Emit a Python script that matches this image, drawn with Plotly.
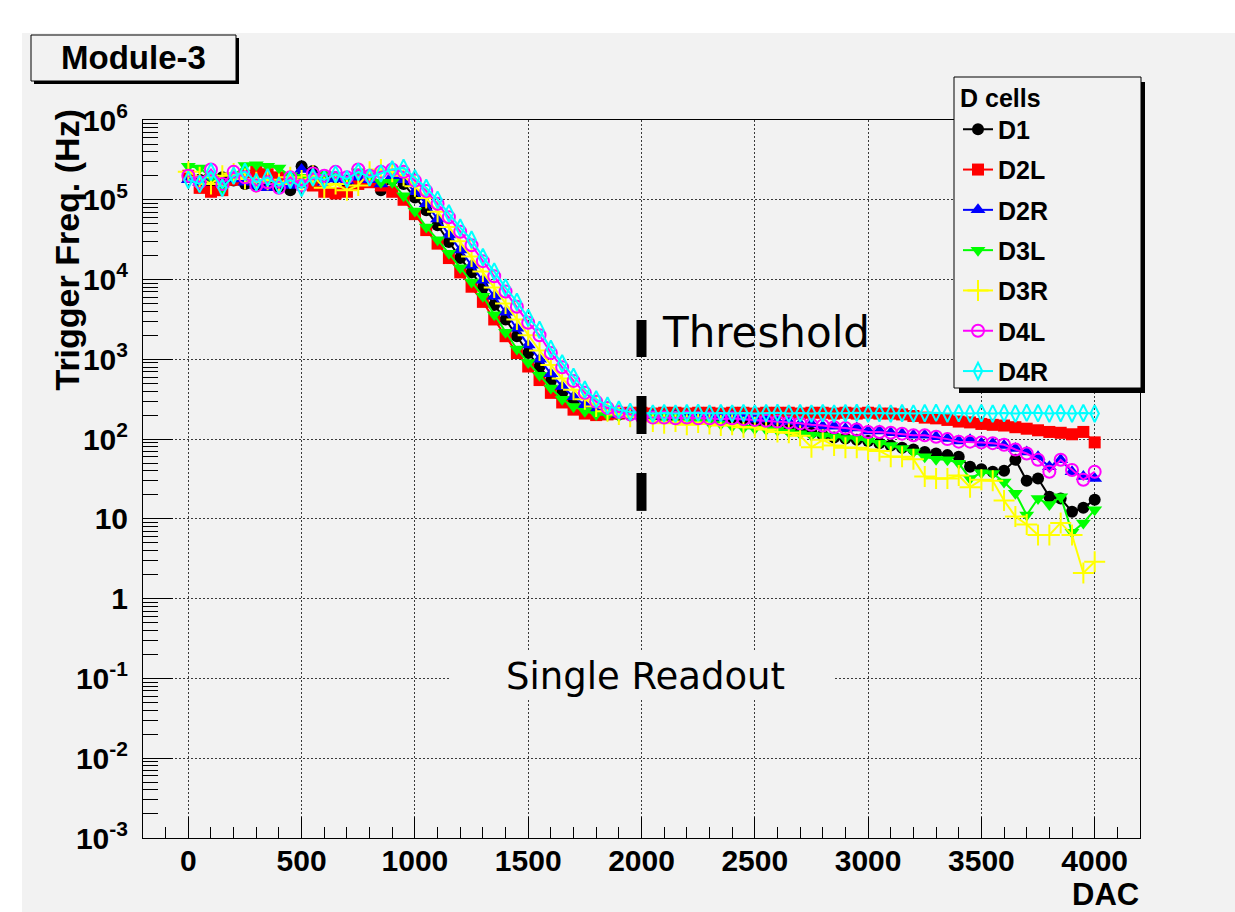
import plotly.graph_objects as go

# ---------------- data ----------------
dac = list(range(0, 4050, 50))  # DAC scan points, step 50

d1 = [200000, 178000, 166000, 191000, 174000, 158000, 151000, 158000, 145000, 132000,
      263000, 229000, 182000, 191000, 166000, 200000, 191000, 132000, 178000,
      158000, 107000, 74100, 47900, 29500, 18600, 12300, 7940, 4790, 3160,
      1950, 1200, 813, 537, 380, 288, 240, 219, 209, 204, 204,
      195, 200, 195, 191, 195, 191, 191, 186, 182, 174,
      158, 148, 141, 132, 126, 120, 112, 105, 102, 98,
      95, 89, 83, 78, 74, 69, 66, 63, 60, 45,
      42, 39, 40, 55, 30, 32, 19, 18, 12.3, 13.8, 17.4]

d2l = [200000, 141000, 126000, 132000, 178000, 200000, 224000, 209000, 191000, 178000,
       166000, 151000, 126000, 120000, 126000, 158000, 166000, 151000, 126000,
       100000, 66100, 41700, 28200, 18600, 12300, 8130, 5250, 3160, 1950,
       1200, 813, 550, 380, 288, 234, 209, 200, 204, 209, 214,
       214, 209, 214, 214, 209, 214, 214, 209, 214, 214,
       209, 214, 214, 214, 209, 214, 214, 209, 214, 209,
       214, 209, 209, 204, 195, 186, 182, 174, 166, 162,
       155, 151, 148, 141, 135, 129, 123, 120, 115, 123, 91]

d2r = [178000, 166000, 191000, 158000, 182000, 166000, 151000, 141000, 158000, 151000,
       240000, 214000, 166000, 182000, 174000, 191000, 178000, 158000, 200000,
       178000, 126000, 89100, 57500, 36300, 23400, 15100, 9770, 6170, 3890,
       2450, 1510, 1000, 661, 457, 339, 269, 234, 214, 204, 200,
       195, 195, 191, 195, 191, 191, 191, 186, 191, 186,
       178, 178, 166, 166, 155, 155, 145, 145, 135, 138,
       126, 126, 120, 117, 112, 112, 107, 102, 95, 98,
       89, 89, 83, 76, 69, 60, 45, 55, 39, 34, 32]

d3l = [263000, 251000, 191000, 141000, 200000, 269000, 275000, 263000, 251000, 200000,
       191000, 178000, 209000, 200000, 182000, 224000, 200000, 166000, 166000,
       112000, 72400, 45700, 31600, 21400, 14100, 9330, 6170, 3630, 2190,
       1350, 912, 631, 437, 316, 257, 224, 204, 200, 195, 195,
       195, 191, 186, 186, 178, 174, 162, 155, 145, 138,
       135, 132, 129, 123, 117, 112, 110, 107, 102, 100,
       95, 89, 83, 76, 69, 60, 56, 55, 50, 32,
       38, 37, 29, 21, 11.2, 18, 15.1, 19, 6.8, 8.9, 13]

d3r = [224000, 191000, 158000, 200000, 214000, 182000, 166000, 178000, 158000, 191000,
       174000, 200000, 141000, 158000, 132000, 151000, 224000, 240000, 224000,
       200000, 148000, 105000, 70800, 45700, 30200, 19500, 12600, 7940, 5010,
       3160, 2000, 1290, 851, 575, 417, 316, 257, 224, 204, 191,
       191, 166, 158, 166, 151, 162, 155, 148, 151, 141,
       141, 132, 123, 120, 110, 79, 98, 83, 78, 78,
       74, 71, 60, 60, 56, 34, 32, 32, 35, 25,
       31, 30, 17, 10.7, 8.5, 6.3, 6.3, 8.9, 6.3, 2.1, 2.9]

d4l = [200000, 166000, 240000, 158000, 224000, 191000, 151000, 166000, 141000, 191000,
       151000, 214000, 200000, 224000, 191000, 240000, 200000, 224000, 240000,
       224000, 174000, 129000, 89100, 60300, 39800, 26900, 17000, 11000, 7080,
       4570, 2880, 2000, 1200, 794, 537, 380, 295, 245, 219, 204,
       191, 186, 186, 182, 186, 182, 182, 178, 182, 178,
       174, 170, 166, 162, 158, 151, 148, 141, 138, 132,
       123, 123, 120, 117, 112, 112, 107, 100, 93, 93,
       91, 89, 85, 74, 66, 55, 39, 55, 41, 31, 39]

d4r = [178000, 158000, 224000, 141000, 200000, 224000, 166000, 191000, 151000, 178000,
       141000, 191000, 178000, 209000, 182000, 224000, 191000, 214000, 240000,
       251000, 186000, 141000, 100000, 67600, 44700, 31600, 19100, 12600, 7940,
       5250, 3310, 2340, 1350, 891, 603, 417, 316, 263, 234, 219,
       212, 209, 212, 209, 212, 214, 209, 212, 209, 212,
       209, 212, 214, 209, 212, 209, 212, 209, 212, 214,
       209, 212, 209, 212, 209, 212, 214, 209, 212, 209,
       212, 209, 212, 209, 214, 212, 209, 212, 209, 212, 209]

series_names = ["D1", "D2L", "D2R", "D3L", "D3R", "D4L", "D4R"]
series_values = [d1, d2l, d2r, d3l, d3r, d4l, d4r]

threshold_dac = [2000, 2000]
threshold_freq = [12.6, 3110]

y_tickvals = [1e-3, 1e-2, 1e-1, 1, 10, 1e2, 1e3, 1e4, 1e5, 1e6]
y_ticktext = ["10<sup>-3</sup>", "10<sup>-2</sup>", "10<sup>-1</sup>", "1", "10",
              "10<sup>2</sup>", "10<sup>3</sup>", "10<sup>4</sup>", "10<sup>5</sup>", "10<sup>6</sup>"]

for v in series_values:
    assert len(v) == len(dac), len(v)

# ---------------- styles ----------------
styles = {
    "D1":  dict(color="#000000", symbol="circle", size=12),
    "D2L": dict(color="#ff0000", symbol="square", size=12),
    "D2R": dict(color="#0000ff", symbol="triangle-up", size=13),
    "D3L": dict(color="#00ff00", symbol="triangle-down", size=13),
    "D3R": dict(color="#ffff00", symbol="cross-thin-open", size=15),
    "D4L": dict(color="#ff00ff", symbol="circle-open", size=12),
    "D4R": dict(color="#00ffff", symbol="diamond-tall-open", size=12),
}

W, H = 1235, 912
L, R, T, B = 143, 95, 120, 74
BG = "#f2f2f2"


def px(x):
    return (x - L) / (W - L - R)


def py(y):
    return (H - B - y) / (H - T - B)


fig = go.Figure()
for name, vals in zip(series_names, series_values):
    st = styles[name]
    is_open = "open" in st["symbol"]
    fig.add_trace(go.Scatter(
        x=dac, y=vals, name=name, mode="lines+markers", legendgroup=name,
        line=dict(color=st["color"], width=2),
        marker=dict(symbol=st["symbol"], size=st["size"], color=st["color"],
                    line=dict(color=st["color"], width=2 if is_open else 0)),
    ))

fig.add_trace(go.Scatter(
    x=threshold_dac, y=threshold_freq, mode="lines", showlegend=False, hoverinfo="skip",
    line=dict(color="black", width=10, dash="38px,39px"),
))

axis_font = dict(family="Liberation Sans, Arial, sans-serif", size=30, color="black", weight="bold")
grid_kw = dict(showgrid=True, gridcolor="#3a3a3a", gridwidth=1, griddash="2px,2px")

fig.update_xaxes(
    range=[-200, 4200], tickmode="linear", tick0=0, dtick=500,
    ticks="inside", ticklen=21, tickwidth=1, tickcolor="black",
    showline=True, linecolor="black", linewidth=1, mirror=True, zeroline=False,
    tickfont=axis_font, ticklabelstandoff=-4,
    minor=dict(tick0=0, dtick=100, ticks="inside", ticklen=11, tickcolor="black", tickwidth=1, showgrid=False),
    **grid_kw,
)

minor_y = [m * 10.0 ** d for d in range(-3, 6) for m in range(2, 10)]
fig.update_yaxes(
    type="log", range=[-3, 6], tickmode="array", tickvals=y_tickvals, ticktext=y_ticktext,
    ticks="inside", ticklen=30, tickwidth=1, tickcolor="black",
    showline=True, linecolor="black", linewidth=1, mirror=True, zeroline=False,
    tickfont=axis_font, ticklabelstandoff=8,
    minor=dict(tickmode="array", tickvals=minor_y, ticks="inside", ticklen=15,
               tickcolor="black", tickwidth=1, showgrid=False),
    **grid_kw,
)

shapes = [
    # canvas
    dict(type="rect", xref="paper", yref="paper", x0=px(22), x1=px(1240), y0=py(920), y1=py(33),
         fillcolor=BG, line=dict(width=0), layer="below"),
    # title box shadow + box
    dict(type="rect", xref="paper", yref="paper", x0=px(34), x1=px(239), y0=py(84), y1=py(38),
         fillcolor="black", line=dict(width=0), layer="above"),
    dict(type="rect", xref="paper", yref="paper", x0=px(31), x1=px(236), y0=py(81), y1=py(35),
         fillcolor=BG, line=dict(color="black", width=1), layer="above"),
    # legend shadow + box
    dict(type="rect", xref="paper", yref="paper", x0=px(959), x1=px(1145), y0=py(393), y1=py(82),
         fillcolor="black", line=dict(width=0), layer="above"),
    dict(type="rect", xref="paper", yref="paper", x0=px(954), x1=px(1141), y0=py(388), y1=py(77),
         fillcolor=BG, line=dict(color="black", width=1), layer="above"),
    # "Single Readout" pave
    dict(type="rect", xref="paper", yref="paper", x0=px(450), x1=px(835), y0=py(700), y1=py(652),
         fillcolor=BG, line=dict(width=0), layer="above"),
]

bold = dict(family="Liberation Sans, Arial, sans-serif", color="black", weight="bold")
annotations = [
    dict(text="Module-3", xref="paper", yref="paper", x=px(133), y=py(58), showarrow=False,
         xanchor="center", yanchor="middle", font=dict(size=33, **bold)),
    dict(text="Trigger Freq. (Hz)", xref="paper", yref="paper", x=px(66), y=py(108), showarrow=False,
         textangle=-90, xanchor="center", yanchor="top", font=dict(size=34, **bold)),
    dict(text="DAC", xref="paper", yref="paper", x=px(1140), y=py(913), showarrow=False,
         xanchor="right", yanchor="bottom", borderpad=0, font=dict(size=31, **bold)),
    dict(text="Threshold", xref="paper", yref="paper", x=px(660), y=py(332), showarrow=False,
         xanchor="left", yanchor="middle", font=dict(family="DejaVu Sans", size=42, color="black")),
    dict(text="Single Readout", xref="paper", yref="paper", x=px(645), y=py(676), showarrow=False,
         xanchor="center", yanchor="middle", font=dict(family="DejaVu Sans", size=37, color="black")),
]

fig.update_layout(
    width=W, height=H, margin=dict(l=L, r=R, t=T, b=B, pad=0),
    paper_bgcolor="white", plot_bgcolor=BG,
    shapes=shapes, annotations=annotations, showlegend=True,
    legend=dict(x=px(958), y=py(74), xanchor="left", yanchor="top",
                bgcolor="rgba(0,0,0,0)", borderwidth=0, traceorder="grouped", tracegroupgap=4.8,
                itemwidth=30, font=dict(size=25, **bold),
                title=dict(text="D cells", font=dict(size=25, **bold))),
    hovermode=False,
)

fig.write_html("out.html")
